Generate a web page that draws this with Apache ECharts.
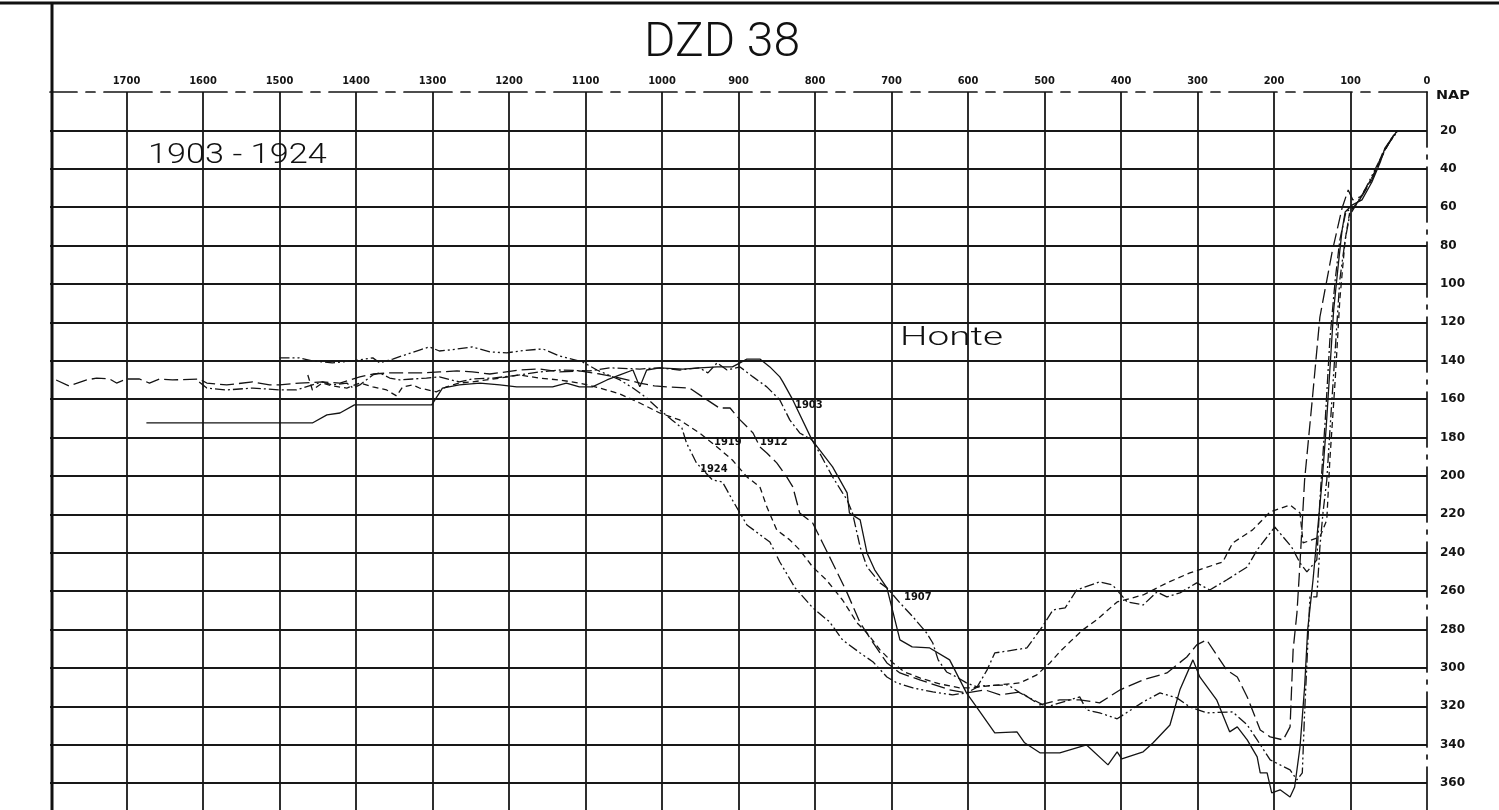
<!DOCTYPE html>
<html>
<head>
<meta charset="utf-8">
<script src="https://cdn.jsdelivr.net/npm/echarts@6/dist/echarts.min.js"></script>
<style>
html,body{margin:0;padding:0;background:#fff;}
#chart{width:1499px;height:810px;}
</style>
</head>
<body>
<div id="chart"></div>
<script>
// distance (m) along profile, depth (dm below NAP)
const xTicks = [0,100,200,300,400,500,600,700,800,900,1000,1100,1200,1300,1400,1500,1600,1700];
const depthTicks = [20,40,60,80,100,120,140,160,180,200,220,240,260,280,300,320,340,360];

const p1903 = [[1674,172.4],[1457,172.4],[1438,168.2],[1421,167.2],[1402,163.0],[1301,163.0],[1287,154.2],[1265,152.6],[1238,151.6],[1212,152.6],[1190,153.6],[1143,153.6],[1125,151.6],[1108,153.6],[1091,153.6],[1072,150.0],[1055,147.4],[1038,144.8],[1029,153.6],[1020,144.8],[1003,143.7],[973,144.3],[951,143.7],[928,143.2],[908,143.2],[898,141.1],[889,139.1],[872,139.1],[859,143.2],[846,148.4],[842,151.0],[829,160.4],[804,181.2],[777,195.3],[758,208.8],[755,219.3],[741,222.9],[732,240.1],[722,248.9],[706,258.3],[689,285.4],[673,289.0],[650,289.6],[624,295.8],[602,313.0],[588,320.8],[565,333.8],[536,333.3],[526,339.0],[506,344.2],[480,344.2],[445,340.1],[417,350.5],[405,343.7],[399,347.4],[371,343.7],[358,339.0],[336,329.7],[323,311.4],[306,295.8],[297,304.7],[275,316.6],[258,333.3],[248,330.7],[235,337.5],[222,346.3],[218,354.7],[209,354.7],[203,365.1],[192,363.5],[179,367.2],[173,362.0],[166,341.1],[160,309.9],[156,280.2],[149,254.2],[143,228.1],[137,202.1],[132,176.0],[127,144.8],[122,113.5],[116,90.1],[111,71.9],[107,62.5],[98,58.9],[85,56.2],[72,46.9],[61,36.5],[55,29.2],[46,24.0],[39,20.3]];

const p1907 = [[1605,151.0],[1595,154.2],[1569,155.2],[1535,154.2],[1500,155.2],[1478,155.2],[1457,152.6],[1444,151.0],[1431,152.6],[1412,151.6],[1404,154.2],[1395,152.6],[1378,147.4],[1369,146.3],[1356,149.0],[1343,150.0],[1326,149.5],[1308,149.0],[1291,148.4],[1265,151.0],[1248,149.5],[1221,149.0],[1186,147.4],[1160,145.8],[1134,144.8],[1095,145.3],[1068,143.7],[1029,144.3],[1003,143.7],[977,144.8],[951,143.7],[940,146.3],[928,141.1],[915,144.8],[898,143.2],[881,148.4],[863,153.6],[846,160.4],[833,170.8],[820,177.6],[804,181.2],[794,188.0],[777,200.5],[764,208.8],[758,212.5],[751,219.3],[741,237.0],[732,247.4],[715,255.7],[706,258.3],[689,266.1],[672,273.4],[654,281.8],[646,287.0],[639,295.8],[628,302.1],[615,304.7],[602,307.8],[588,309.9],[575,301.0],[565,292.2],[523,289.6],[503,278.6],[489,269.8],[473,268.7],[458,259.4],[428,255.2],[411,256.8],[392,265.6],[371,267.2],[353,260.4],[340,263.0],[323,260.9],[301,255.7],[284,259.4],[262,254.2],[235,247.4],[222,238.5],[199,226.6],[177,237.0],[166,245.3],[157,250.0],[144,243.7],[140,212.5],[133,170.8],[127,129.2],[120,97.9],[114,77.1],[106,62.5],[94,59.4],[81,51.0],[68,41.7],[58,31.8],[47,25.0],[38,20.3]];

const p1912 = [[1792,150.0],[1775,153.1],[1752,150.0],[1739,149.0],[1722,149.5],[1713,151.6],[1700,149.5],[1683,149.5],[1670,151.6],[1657,149.5],[1640,150.0],[1605,149.5],[1595,151.6],[1569,152.6],[1535,151.0],[1513,152.6],[1500,152.6],[1474,151.6],[1444,151.0],[1421,151.6],[1395,148.4],[1378,146.9],[1356,146.3],[1313,146.3],[1291,145.8],[1268,145.3],[1248,145.8],[1225,146.9],[1186,144.8],[1160,144.3],[1134,145.8],[1108,145.3],[1081,146.9],[1055,149.0],[1029,151.6],[1010,153.1],[994,153.6],[964,154.2],[947,158.8],[925,164.6],[911,164.6],[898,170.8],[881,177.6],[872,184.9],[863,188.0],[850,193.2],[837,200.5],[829,205.7],[820,219.3],[803,224.5],[790,234.9],[777,245.3],[758,260.9],[741,276.5],[724,287.0],[706,297.4],[689,302.6],[663,306.2],[624,311.4],[602,313.0],[578,311.4],[558,314.0],[532,312.5],[506,319.3],[480,316.6],[454,316.6],[428,318.2],[401,311.4],[371,306.2],[340,302.6],[314,294.3],[301,288.0],[288,285.4],[262,301.0],[248,304.7],[235,315.1],[218,332.3],[205,335.9],[188,337.5],[179,330.7],[175,290.6],[170,271.3],[166,245.3],[160,202.1],[150,160.4],[140,117.2],[124,83.3],[111,60.4],[103,51.0],[97,56.2],[85,54.2],[72,45.8],[61,35.4],[52,28.1],[39,20.3]];

const p1919 = [[1463,147.4],[1457,155.2],[1444,151.6],[1431,153.1],[1412,154.2],[1395,151.6],[1378,153.6],[1360,155.2],[1347,158.3],[1339,153.6],[1326,152.6],[1317,154.2],[1295,156.2],[1282,153.6],[1265,151.6],[1248,151.0],[1212,149.0],[1186,147.4],[1160,149.0],[1134,150.0],[1108,151.6],[1081,154.2],[1055,157.3],[1029,162.0],[1003,167.2],[977,170.8],[951,177.6],[928,184.9],[908,191.7],[889,200.5],[872,205.7],[863,216.1],[850,228.1],[833,233.3],[820,238.5],[803,247.4],[785,254.2],[764,264.6],[745,276.5],[732,281.8],[715,290.6],[698,297.4],[683,302.1],[663,305.2],[637,308.3],[611,310.4],[594,310.4],[575,309.4],[532,307.8],[510,303.6],[493,297.4],[480,291.6],[464,285.4],[450,280.2],[432,275.0],[405,265.6],[371,262.0],[340,255.7],[310,250.5],[267,244.8],[254,234.9],[228,228.1],[205,218.7],[179,215.1],[166,219.3],[162,234.9],[140,231.8],[131,222.9],[127,191.7],[120,150.0],[114,108.3],[107,77.1],[101,62.5],[88,56.2],[72,44.8],[60,34.4],[50,26.6],[41,20.8]];

const p1924 = [[1500,138.5],[1474,138.5],[1457,140.1],[1431,141.1],[1404,140.1],[1378,138.5],[1369,141.1],[1352,139.1],[1317,134.4],[1304,132.8],[1291,134.9],[1278,134.4],[1248,132.8],[1225,135.4],[1203,135.9],[1186,134.9],[1156,133.8],[1134,137.5],[1104,140.6],[1085,144.8],[1055,150.0],[1038,154.2],[1020,159.4],[1003,165.6],[987,170.8],[974,175.0],[968,182.8],[955,193.2],[934,202.1],[921,203.1],[908,212.5],[889,225.5],[859,234.4],[846,244.8],[826,258.3],[803,268.7],[781,276.0],[764,285.4],[741,292.2],[724,296.9],[706,304.7],[693,307.8],[672,310.4],[646,312.5],[620,314.0],[602,313.0],[585,309.4],[548,308.8],[532,313.0],[497,320.3],[454,315.1],[445,321.9],[428,323.4],[405,326.5],[371,317.7],[349,313.0],[327,315.6],[310,320.3],[288,323.4],[254,322.9],[235,329.7],[222,337.5],[205,347.9],[179,353.1],[170,358.3],[163,354.7],[160,323.4],[156,289.0],[153,263.0],[144,263.0],[140,237.0],[136,219.3],[131,202.1],[126,170.8],[120,134.4],[114,97.9],[107,77.1],[101,64.1],[93,58.9],[80,50.0],[67,39.6],[55,30.2],[46,24.0],[38,20.3]];

const seriesNames = ['1903','1907','1912','1919','1924'];
const seriesData = [p1903, p1907, p1912, p1919, p1924];
const dashTypes = ['solid', [10,3,2,3], [14,5], [6,4], [10,3,2,3,2,3]];

const chart = echarts.init(document.getElementById('chart'), null, {renderer:'canvas'});
const ink = '#141414';
const gridInk = '#181818';
const labelFont = "bold 11px 'DejaVu Sans Condensed','DejaVu Sans',sans-serif";

const option = {
  backgroundColor: '#ffffff',
  animation: false,
  grid: {left: 50, right: 72, top: 92, bottom: 0, containLabel: false},
  xAxis: {
    type: 'value', min: 0, max: 1800, interval: 100, inverse: true, position: 'top',
    axisLine: {show: true, lineStyle: {color: ink, width: 1.7, type: [48,9,9,9]}},
    axisTick: {show: false},
    axisLabel: {
      show: true, margin: 5, color: ink, fontSize: 11, fontWeight: 'bold',
      fontFamily: "'DejaVu Sans Condensed','Liberation Sans Narrow','DejaVu Sans',sans-serif",
      formatter: v => (xTicks.indexOf(v) >= 0 ? String(v) : '')
    },
    splitLine: {show: true, showMinLine: false, showMaxLine: false, lineStyle: {color: gridInk, width: 1.8}}
  },
  yAxis: {
    type: 'value', min: 0, max: 374, interval: 20, inverse: true, position: 'right',
    axisLine: {show: true, lineStyle: {color: ink, width: 1.7, type: [55,8,4,8]}},
    axisTick: {show: false},
    axisLabel: {
      show: true, margin: 13, align: 'left', color: ink, fontSize: 12, fontWeight: 'bold',
      fontFamily: "'DejaVu Sans','Liberation Sans',sans-serif",
      formatter: v => (depthTicks.indexOf(v) >= 0 ? String(v) : '')
    },
    splitLine: {show: true, showMinLine: false, showMaxLine: false, lineStyle: {color: gridInk, width: 1.8}}
  },
  series: seriesNames.map((n, i) => ({
    type: 'line', name: n, data: seriesData[i], symbol: 'none', smooth: false,
    clip: true, z: 5,
    lineStyle: {color: ink, width: 1.3, type: dashTypes[i]}
  })),
  graphic: [
    {type: 'line', z: 10, shape: {x1: 0, y1: 3, x2: 1499, y2: 3}, style: {stroke: '#111', lineWidth: 2.8}},
    {type: 'line', z: 10, shape: {x1: 52, y1: 3, x2: 52, y2: 810}, style: {stroke: '#111', lineWidth: 3}},
    {type: 'text', z: 10, x: 644, y: 20,
      style: {text: 'DZD 38', fill: '#111', font: "300 48px Roboto, 'DejaVu Sans', sans-serif"}},
    {type: 'text', z: 10, x: 148, y: 143, scaleX: 1.27,
      style: {text: '1903 - 1924', fill: '#111', font: "300 27px Roboto, 'DejaVu Sans', sans-serif"}},
    {type: 'text', z: 10, x: 900, y: 326, scaleX: 1.55,
      style: {text: 'Honte', fill: '#111', font: "300 25px Roboto, 'DejaVu Sans', sans-serif"}},
    {type: 'text', z: 10, x: 1436, y: 90, scaleX: 1.2,
      style: {text: 'NAP', fill: '#111', font: "bold 12px 'DejaVu Sans', sans-serif"}},
    {type: 'text', z: 10, x: 795, y: 400, style: {text: '1903', fill: '#111', font: labelFont}},
    {type: 'text', z: 10, x: 714, y: 437, style: {text: '1919', fill: '#111', font: labelFont}},
    {type: 'text', z: 10, x: 760, y: 437, style: {text: '1912', fill: '#111', font: labelFont}},
    {type: 'text', z: 10, x: 700, y: 464, style: {text: '1924', fill: '#111', font: labelFont}},
    {type: 'text', z: 10, x: 904, y: 592, style: {text: '1907', fill: '#111', font: labelFont}}
  ]
};
chart.setOption(option);
</script>
</body>
</html>
